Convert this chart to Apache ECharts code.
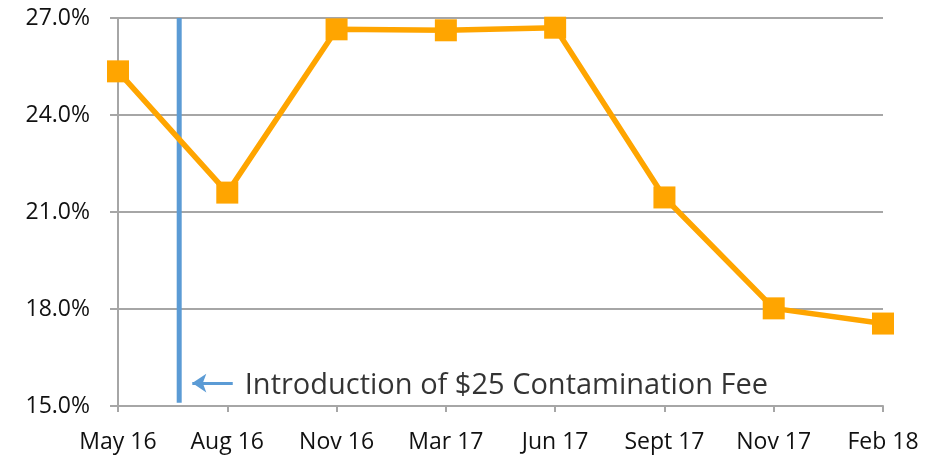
<!DOCTYPE html>
<html>
<head>
<meta charset="utf-8">
<script src="https://cdn.jsdelivr.net/npm/echarts@6/dist/echarts.min.js"></script>
<style>
  html, body { margin: 0; padding: 0; background: #fff; }
  #chart { width: 949px; height: 461px; }
</style>
</head>
<body>
<div id="chart"></div>
<script>
var categories = ['May 16', 'Aug 16', 'Nov 16', 'Mar 17', 'Jun 17', 'Sept 17', 'Nov 17', 'Feb 18'];
var rates = [25.35, 21.6, 26.65, 26.62, 26.7, 21.45, 18.02, 17.55];
var yTicks = [15, 18, 21, 24, 27];

// fee introduction, placed between May 16 and Aug 16
var feeX = 0.56;
var feeLine = [[feeX, 15.1], [feeX, 27]];
var arrow = [[1.05, 15.71], [0.68, 15.71]];
var noteAt = [1.16, 15.62];
var noteText = 'Introduction of $25 Contamination Fee';

var font = 'Open Sans';
var chart = echarts.init(document.getElementById('chart'));

chart.setOption({
    animation: false,
    grid: { left: 118, right: 66, top: 18, bottom: 55 },
    xAxis: {
        type: 'value',
        min: 0,
        max: categories.length - 1,
        interval: 1,
        axisLine: { lineStyle: { color: '#a6a6a6', width: 2 } },
        axisTick: { length: 6, lineStyle: { color: '#a6a6a6', width: 2 } },
        splitLine: { show: false },
        axisLabel: {
            margin: 25,
            color: '#111',
            fontFamily: font,
            fontSize: 23,
            formatter: function (v) { return categories[Math.round(v)]; }
        }
    },
    yAxis: {
        type: 'value',
        min: yTicks[0],
        max: yTicks[yTicks.length - 1],
        interval: 3,
        axisLine: { show: true, lineStyle: { color: '#a6a6a6', width: 2 } },
        axisTick: { show: true, length: 8, lineStyle: { color: '#a6a6a6', width: 2 } },
        splitLine: { lineStyle: { color: '#a6a6a6', width: 2 } },
        axisLabel: {
            margin: 28,
            color: '#111',
            fontFamily: font,
            fontSize: 23,
            formatter: function (v) { return v.toFixed(1) + '%'; }
        }
    },
    series: [
        {
            type: 'line',
            data: feeLine,
            symbol: 'none',
            lineStyle: { color: '#5b9bd5', width: 5 },
            z: 3
        },
        {
            type: 'line',
            data: rates.map(function (v, i) { return [i, v]; }),
            symbol: 'rect',
            symbolSize: 22,
            itemStyle: { color: '#ffa500' },
            lineStyle: { color: '#ffa500', width: 5.5 },
            z: 4
        },
        {
            type: 'line',
            data: [],
            markLine: {
                silent: true,
                symbol: ['none', 'arrow'],
                symbolSize: 14,
                label: { show: false },
                lineStyle: { color: '#5b9bd5', width: 3, type: 'solid' },
                data: [[{ coord: arrow[0] }, { coord: arrow[1] }]]
            }
        },
        {
            type: 'scatter',
            data: [noteAt],
            symbolSize: 0,
            label: {
                show: true,
                position: 'right',
                distance: 0,
                formatter: noteText,
                color: '#000',
                fontFamily: font,
                fontSize: 29
            }
        }
    ]
});
</script>
</body>
</html>
